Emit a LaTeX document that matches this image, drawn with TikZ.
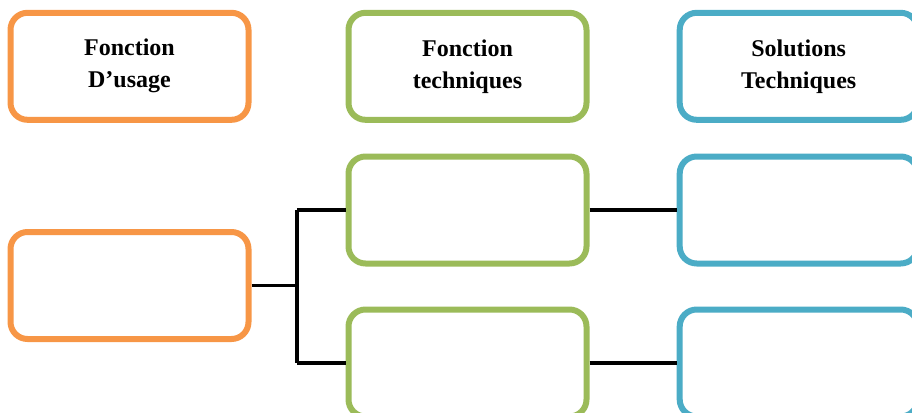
\documentclass[tikz,border=0pt]{standalone}
\usepackage{fontspec}
\setmainfont{Liberation Serif}
\definecolor{orgC}{HTML}{F79646}
\definecolor{grnC}{HTML}{9BBB59}
\definecolor{bluC}{HTML}{4BACC6}
\begin{document}
\begin{tikzpicture}[x=1pt,y=-1pt,
  box/.style={draw, line width=6pt, rounded corners=17pt, minimum width=238pt, minimum height=107pt, inner sep=0pt, align=center, font=\fontsize{24}{32}\selectfont\bfseries, fill=white},
  obox/.style={box, draw=orgC},
  gbox/.style={box, draw=grnC},
  bbox/.style={box, draw=bluC},
  conn/.style={draw=black, line width=3.3pt}]
\useasboundingbox (0,0) rectangle (912,412);
\clip (0,0) rectangle (912,412);
\node[obox] (ot) at (129.5,66.3) {Fonction\\D’usage};
\node[gbox] (gt) at (467.5,66.3) {Fonction\\techniques};
\node[bbox] (bt) at (798.7,66.3) {Solutions\\Techniques};
\node[obox] (om) at (129.5,285.5) {};
\node[gbox] (gm) at (467.5,210) {};
\node[bbox] (bm) at (798.7,210) {};
\node[gbox] (gb) at (467.5,363) {};
\node[bbox] (bb) at (798.7,363) {};
\coordinate (j) at (297,285.5);
\draw[conn] (om.east) -- (j);
\draw[conn] (j |- gm.west) -- (j |- gb.west);
\draw[conn] (j |- gm.west) -- (gm.west);
\draw[conn] (j |- gb.west) -- (gb.west);
\draw[conn] (gm.east) -- (bm.west);
\draw[conn] (gb.east) -- (bb.west);
\end{tikzpicture}
\end{document}
